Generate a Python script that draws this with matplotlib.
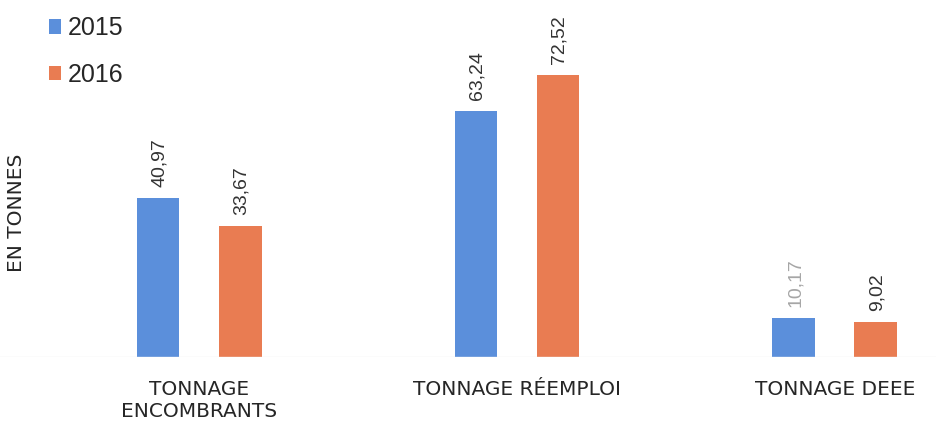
import numpy as np
import matplotlib
matplotlib.use("Agg")
import matplotlib.pyplot as plt

categories = ["TONNAGE\nENCOMBRANTS", "TONNAGE RÉEMPLOI", "TONNAGE DEEE"]
years = ["2015", "2016"]
values_2015 = [40.97, 63.24, 10.17]
values_2016 = [33.67, 72.52, 9.02]

plt.rcParams["font.family"] = ["Liberation Sans", "DejaVu Sans"]

blue = "#5b8fdb"
orange = "#e97c52"

fig = plt.figure(figsize=(9.37, 4.21), dpi=100)
ax = fig.add_axes([0, 0.151, 1, 0.849])

x = np.arange(len(categories))
w = 0.135
off = 0.129
b1 = ax.bar(x - off, values_2015, w, color=blue, label=years[0])
b2 = ax.bar(x + off, values_2016, w, color=orange, label=years[1])

def fmt(v):
    return f"{v:.2f}".replace(".", ",")

for bars, vals in [(b1, values_2015), (b2, values_2016)]:
    for rect, v in zip(bars, vals):
        col = "#a6a6a6" if v == 10.17 else "#333333"
        ax.annotate(fmt(v), (rect.get_x() + rect.get_width() / 2, rect.get_height()),
                    xytext=(1, 8), textcoords="offset points", rotation=90,
                    ha="center", va="bottom", fontsize=14, color=col)

ax.set_xlim(-0.626, 2.321)
ax.set_ylim(0, 91.7)
for s in ax.spines.values():
    s.set_visible(False)
ax.axhline(0, color="#eeeeee", lw=1)
ax.set_yticks([])
ax.set_xticks(x)
ax.set_xticklabels(categories, fontsize=14.5, color="#262626", linespacing=1.2,
                   family="DejaVu Sans")
ax.tick_params(axis="x", length=0, pad=16)

fig.text(0.018, 0.495, "EN TONNES", rotation=90, ha="center", va="center",
         fontsize=14.5, color="#262626", family="DejaVu Sans")

ax.legend(loc="upper left", bbox_to_anchor=(0.028, 1.017), frameon=False,
          fontsize=18, handlelength=0.5, handleheight=0.5, handletextpad=0.25,
          labelspacing=0.9, labelcolor="#262626")

fig.savefig("out.png", dpi=100, facecolor="white")
